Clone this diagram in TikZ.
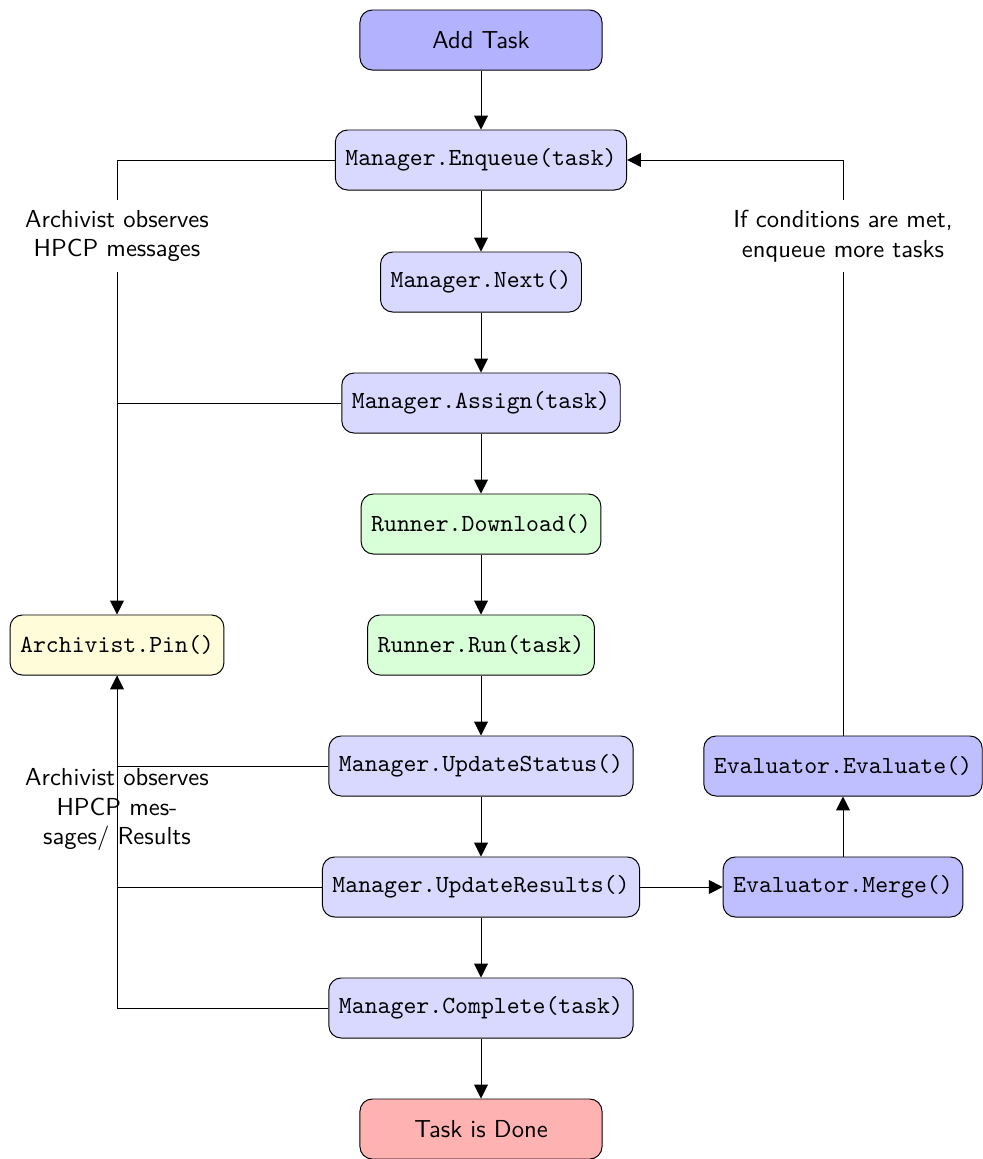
\documentclass[tikz,border=0pt]{standalone}
\usetikzlibrary{arrows.meta}
\begin{document}
\begin{tikzpicture}[x=0.4065pt,y=-0.4065pt,
  font=\sffamily,
  box/.style={draw, rounded corners=5pt, inner sep=4.1pt, minimum height=24.4pt, font=\ttfamily},
  mgr/.style={box, fill=blue!15},
  run/.style={box, fill=green!15},
  evl/.style={box, fill=blue!25},
  arc/.style={box, fill=yellow!15},
  term/.style={draw, rounded corners=5pt, minimum width=98.4pt, minimum height=24.4pt, font=\sffamily},
  arr/.style={-{Triangle[length=5.6pt,width=5.6pt]}},
  lbl/.style={align=center, inner sep=4pt, font=\sffamily}
]
\useasboundingbox (0,0) rectangle (982,1159);

\node[term, fill=blue!30] (add) at (481,40) {Add Task};
\node[mgr] (enq) at (481,160) {Manager.Enqueue(task)};
\node[mgr] (next) at (481,282) {Manager.Next()};
\node[mgr] (assign) at (481,403) {Manager.Assign(task)};
\node[run] (down) at (481,524) {Runner.Download()};
\node[run] (runt) at (481,645) {Runner.Run(task)};
\node[arc] (pin) at (117,645) {Archivist.Pin()};
\node[mgr] (status) at (481,766) {Manager.UpdateStatus()};
\node[evl] (eval) at (843,766) {Evaluator.Evaluate()};
\node[mgr] (results) at (481,887) {Manager.UpdateResults()};
\node[evl] (merge) at (843,887) {Evaluator.Merge()};
\node[mgr] (complete) at (481,1008) {Manager.Complete(task)};
\node[term, fill=red!30] (done) at (481,1129) {Task is Done};

\draw[arr] (add) -- (enq);
\draw[arr] (enq) -- (next);
\draw[arr] (next) -- (assign);
\draw[arr] (assign) -- (down);
\draw[arr] (down) -- (runt);
\draw[arr] (runt) -- (status);
\draw[arr] (status) -- (results);
\draw[arr] (results) -- (complete);
\draw[arr] (complete) -- (done);

\draw[arr] (enq.west) -| (pin.north);
\draw (assign.west) -- (assign.west -| pin.north);
\draw[arr] (status.west) -| (pin.south);
\draw (results.west) -- (results.west -| pin.south);
\draw (complete.west) -| (pin.south);

\draw[arr] (results) -- (merge);
\draw[arr] (merge) -- (eval);
\draw[arr] (eval.north) |- (enq.east);

\node[lbl, fill=white] (l1) at (117,236) {Archivist observes\\HPCP messages};
\node[lbl] (l2) at (117,810) {Archivist observes\\HPCP mes-\\sages/ Results};
\node[lbl, fill=white] (l3) at (843,236) {If conditions are met,\\enqueue more tasks};
\end{tikzpicture}
\end{document}
